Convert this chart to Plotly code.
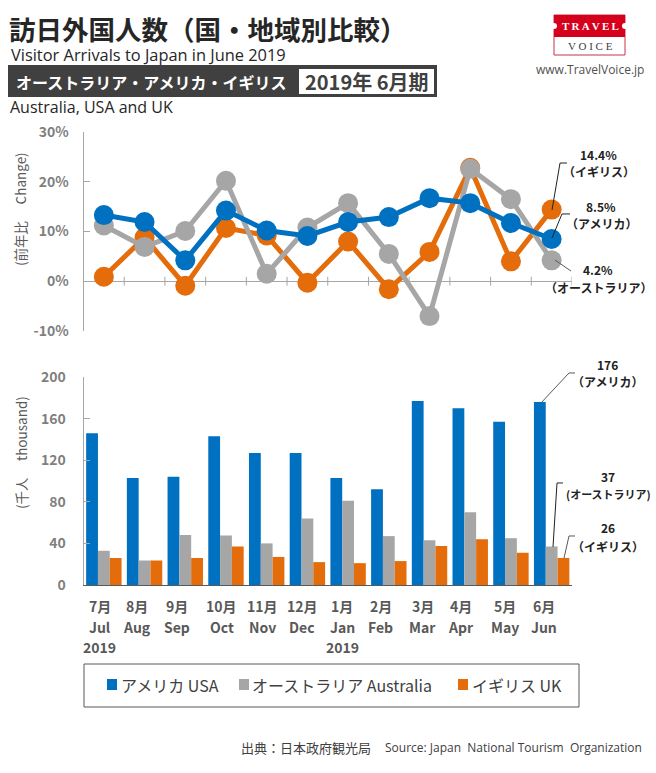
import plotly.graph_objects as go

W = 656
H = 773

months = ['Jul', 'Aug', 'Sep', 'Oct', 'Nov', 'Dec', 'Jan', 'Feb', 'Mar', 'Apr', 'May', 'Jun']
months_jp = ['7月', '8月', '9月', '10月', '11月', '12月', '1月', '2月', '3月', '4月', '5月', '6月']
year_labels = ['2019', '', '', '', '', '', '2019', '', '', '', '', '']
label_nudge = [-4, -8, -8, -4, -4, -5, -6, -8, -7, -9, -6, -8]

change_usa = [13.3, 11.9, 4.2, 14.2, 10.2, 9.1, 11.9, 12.9, 16.7, 15.7, 11.7, 8.5]
change_aus = [11.2, 6.9, 10.1, 20.2, 1.5, 10.8, 15.7, 5.5, -7.0, 22.6, 16.5, 4.2]
change_uk = [0.9, 8.8, -0.9, 10.7, 9.2, -0.3, 8.0, -1.6, 5.9, 22.8, 4.0, 14.4]

visitors_usa = [146, 103, 104, 143, 127, 127, 103, 92, 177, 170, 157, 176]
visitors_aus = [33, 23.5, 48, 47.5, 40, 64, 81, 47, 43, 70, 45, 37]
visitors_uk = [26, 23.5, 26, 37, 27, 22, 21, 23, 37.5, 44, 31, 26]

BLUE = '#0070c0'
GRAY = '#a6a6a6'
ORANGE = '#e46c0a'
TICK = '#7f7f7f'
JP = 'Noto Sans CJK JP'


def px(x):
    return x / W


def py(y):
    return 1 - y / H


def text(x, y, s, size=12, color='#222222', anchor='left', bold=False, font=JP):
    # x, y are in page pixels
    if bold:
        s = '<b>' + s + '</b>'
    return dict(x=px(x), y=py(y), xref='paper', yref='paper', text=s, showarrow=False,
                xanchor=anchor, yanchor='middle', align='center' if anchor == 'center' else anchor,
                borderpad=0, borderwidth=0, font=dict(family=font, size=size, color=color))


def box(x0, y0, x1, y1, fill='rgba(0,0,0,0)', line=None, width=1, kind='rect'):
    return dict(type=kind, xref='paper', yref='paper', x0=px(x0), x1=px(x1), y0=py(y0), y1=py(y1),
                fillcolor=fill, line=dict(color=line or 'rgba(0,0,0,0)', width=width if line else 0))


def leader(points, color='#222222'):
    path = 'M ' + ' L '.join(f'{px(x):.4f} {py(y):.4f}' for x, y in points)
    return dict(type='path', xref='paper', yref='paper', path=path, line=dict(color=color, width=1))


fig = go.Figure()

for name, vals, col in [('アメリカ USA', visitors_usa, BLUE),
                        ('オーストラリア Australia', visitors_aus, GRAY),
                        ('イギリス UK', visitors_uk, ORANGE)]:
    fig.add_trace(go.Bar(x=months, y=vals, name=name, marker=dict(color=col, line=dict(width=0)),
                         xaxis='x2', yaxis='y2', showlegend=False))

for vals, col in [(change_uk, ORANGE), (change_aus, GRAY), (change_usa, BLUE)]:
    fig.add_trace(go.Scatter(x=months, y=vals, mode='lines+markers', line=dict(color=col, width=5),
                             marker=dict(color=col, size=20), xaxis='x', yaxis='y', showlegend=False,
                             cliponaxis=False))

shapes = []
annotations = []

# tick marks on the zero line of the top chart
for i in range(len(months)):
    shapes.append(dict(type='line', xref='x', yref='y', x0=i + 0.5, x1=i + 0.5, y0=-0.9, y1=0.9,
                       line=dict(color='#a6a6a6', width=1), layer='below'))

# header
annotations.append(text(9, 28.5, '訪日外国人数（国・地域別比較）', size=26.5, bold=True, color='#262626'))
annotations.append(text(11, 54.5, 'Visitor Arrivals to Japan in June 2019', size=16.4, color='#262626', font='Open Sans'))
shapes.append(box(8, 65, 437, 97, fill='#404040'))
shapes.append(box(299, 69, 434, 94, fill='#ffffff'))
annotations.append(text(16, 82, 'オーストラリア・アメリカ・イギリス', size=16, bold=True, color='#ffffff'))
annotations.append(text(367, 82, '2019年 6月期', size=20, bold=True, color='#404040', anchor='center'))
annotations.append(text(10, 107, 'Australia, USA and UK', size=16, color='#262626', font='Open Sans'))

# logo
shapes.append(box(554, 15, 625, 55, fill='#ffffff', line='#c8334a'))
shapes.append(box(554, 15, 625, 37, fill='#d5001c'))
shapes.append(box(551, 23, 557, 29, fill='#ffffff', kind='circle'))
shapes.append(box(622, 23, 628, 29, fill='#ffffff', kind='circle'))
annotations.append(text(590, 26, 'T\u2009R\u2009A\u2009V\u2009E\u2009L', size=11, color='#ffffff', anchor='center',
                        font='Liberation Serif', bold=True))
annotations.append(text(590, 46, 'V O I C E', size=11, color='#404040', anchor='center', font='Liberation Serif'))
annotations.append(text(590, 70, 'www.TravelVoice.jp', size=12, color='#505050', anchor='center', font='Open Sans'))

# axis titles
for x, y, s in [(20, 209, '(前年比　\u00a0Change)'), (21, 453, '(千人　\u00a0thousand)')]:
    a = text(x, y, s, size=13.5, color='#595959', anchor='center')
    a['textangle'] = -90
    annotations.append(a)

# month labels under the bars, one row at a time
for m, jp, year, dx in zip(months, months_jp, year_labels, label_nudge):
    for s, dy in [(jp, -21), (m, -42), (year, -62)]:
        if s:
            annotations.append(dict(x=m, y=0, xref='x2', yref='y2', text='<b>' + s + '</b>', showarrow=False,
                                    xanchor='center', yanchor='middle', yshift=dy, xshift=dx, align='center',
                                    borderpad=0, borderwidth=0,
                                    font=dict(family=JP, size=14, color='#595959')))

# callouts top
annotations.append(text(598, 154, '14.4%', size=12, bold=True, anchor='center'))
annotations.append(text(599, 172, '（イギリス）', size=12, bold=True, anchor='center'))
annotations.append(text(601, 206, '8.5%', size=12, bold=True, anchor='center'))
annotations.append(text(601, 224, '（アメリカ）', size=12, bold=True, anchor='center'))
annotations.append(text(598, 269, '4.2%', size=12, bold=True, anchor='center'))
annotations.append(text(598, 287, '（オーストラリア）', size=12, bold=True, anchor='center'))
shapes.append(leader([(552, 210), (560, 163), (567, 163)]))
shapes.append(leader([(552, 238), (562, 214), (570, 214)]))
shapes.append(leader([(555, 260), (571, 271)], color='#595959'))

# callouts bottom
annotations.append(text(607, 364, '176', size=12, bold=True, anchor='center'))
annotations.append(text(607, 382, '（アメリカ）', size=12, bold=True, anchor='center'))
annotations.append(text(608, 476, '37', size=12, bold=True, anchor='center'))
annotations.append(text(608, 494, '(オーストラリア)', size=11, bold=True, anchor='center'))
annotations.append(text(608, 527, '26', size=12, bold=True, anchor='center'))
annotations.append(text(608, 546, '（イギリス）', size=12, bold=True, anchor='center'))
shapes.append(leader([(541, 403), (569, 373), (575, 373)], color='#595959'))
shapes.append(leader([(553, 547), (557, 483), (563, 483)]))
shapes.append(leader([(564, 558), (569, 536), (575, 536)], color='#595959'))

# legend box
shapes.append(box(84, 664, 579, 707, line='#595959'))
for x, col in [(107, BLUE), (239, GRAY), (458, ORANGE)]:
    shapes.append(box(x, 679, x + 10, 690, fill=col))
annotations.append(text(121, 685, 'アメリカ USA', size=16, color='#404040'))
annotations.append(text(252, 685, 'オーストラリア Australia', size=16, color='#404040'))
annotations.append(text(472, 685, 'イギリス UK', size=16, color='#404040'))

# source
annotations.append(text(241, 747, '出典：日本政府観光局', size=13, color='#404040'))
annotations.append(text(642, 747, 'Source: Japan  National Tourism  Organization', size=12, color='#404040',
                        anchor='right', font='Open Sans'))

axis_font = dict(family=JP, size=14, color=TICK, weight=700)

fig.update_layout(
    width=W, height=H, margin=dict(l=0, r=0, t=0, b=0, autoexpand=False), paper_bgcolor='white',
    plot_bgcolor='white', barmode='group', bargap=0.13, bargroupgap=0, showlegend=False,
    shapes=shapes, annotations=annotations,
    xaxis=dict(domain=[px(83.5), px(572)], anchor='y', type='category', range=[-0.5, 11.5], visible=False),
    yaxis=dict(domain=[py(331), py(132)], anchor='x', range=[-10, 30], tickvals=[-10, 0, 10, 20, 30],
               ticktext=['-10%', '0%', '10%', '20%', '30%'], ticks='inside', ticklen=6, tickcolor='#a6a6a6',
               showline=True, linecolor='#a6a6a6', showgrid=False, zeroline=True, zerolinecolor='#a6a6a6',
               zerolinewidth=1, tickfont=axis_font, ticklabelstandoff=11),
    xaxis2=dict(domain=[px(83.5), px(572)], anchor='y2', type='category', range=[-0.5, 11.5], showline=True,
                linecolor='#595959', showticklabels=False, ticks='', showgrid=False),
    yaxis2=dict(domain=[py(585), py(377)], anchor='x2', range=[0, 200], tickvals=[0, 40, 80, 120, 160, 200],
                ticks='inside', ticklen=6, tickcolor='#a6a6a6', showline=True, linecolor='#a6a6a6',
                showgrid=False, zeroline=False, tickfont=axis_font, ticklabelstandoff=14),
)

fig.write_html('out.html', config={'displayModeBar': False},
               post_script="document.body.style.margin='0';document.body.style.overflow='hidden';")
